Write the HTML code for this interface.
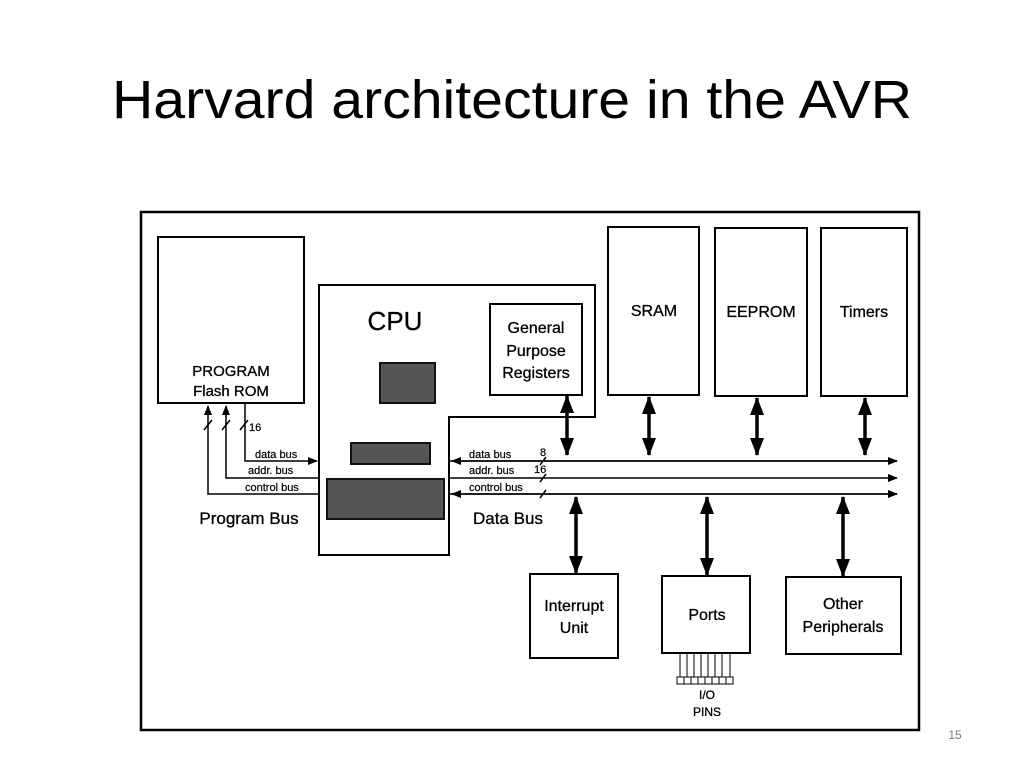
<!DOCTYPE html>
<html><head><meta charset="utf-8"><style>
html,body{margin:0;padding:0;background:#fff;}
svg{display:block}
</style></head><body>
<svg width="1024" height="768" viewBox="0 0 1024 768" xmlns="http://www.w3.org/2000/svg" font-family="Liberation Sans, Arial, sans-serif">
<defs>
<marker id="a" markerWidth="10" markerHeight="10" refX="9" refY="5" orient="auto" markerUnits="userSpaceOnUse"><path d="M0,1 L10,5 L0,9 Z" fill="#000"/></marker>
<marker id="t" viewBox="0 0 18 14" markerWidth="18" markerHeight="14" refX="17" refY="7" orient="auto-start-reverse" markerUnits="userSpaceOnUse"><path d="M0,0 L18,7 L0,14 Z" fill="#000"/></marker>
</defs>
<text x="512" y="118" font-size="54" text-anchor="middle" textLength="800" lengthAdjust="spacingAndGlyphs" fill="#000">Harvard architecture in the AVR</text>
<rect x="141" y="212" width="778" height="518" fill="none" stroke="#000" stroke-width="2.5"/>
<g fill="none" stroke="#000" stroke-width="2">
<rect x="158" y="237" width="146" height="166"/>
<path d="M319,285 H595 V417 H449 V555 H319 Z"/>
<rect x="490" y="304" width="92" height="91"/>
<rect x="608" y="227" width="91" height="168"/>
<rect x="715" y="228" width="92" height="168"/>
<rect x="821" y="228" width="86" height="168"/>
<rect x="530" y="574" width="88" height="84"/>
<rect x="662" y="576" width="88" height="77"/>
<rect x="786" y="577" width="115" height="77"/>
</g>
<rect x="380" y="363" width="55" height="40" fill="#555" stroke="#111" stroke-width="2"/>
<rect x="351" y="443" width="79" height="21" fill="#555" stroke="#111" stroke-width="2"/>
<rect x="327" y="479" width="117" height="40" fill="#555" stroke="#111" stroke-width="2"/>
<g stroke="#000" stroke-width="1.5" fill="none">
<path d="M245,403 V461 H317" marker-end="url(#a)"/>
<path d="M319,478 H226 V406" marker-end="url(#a)"/>
<path d="M319,494 H208 V406" marker-end="url(#a)"/>
<path d="M450,461 H897" marker-end="url(#a)"/>
<path d="M450,478 H897" marker-end="url(#a)"/>
<path d="M450,494 H897" marker-end="url(#a)"/>
<path d="M897,461 H452" marker-end="url(#a)"/>
<path d="M897,494 H452" marker-end="url(#a)"/>
<path d="M204,430 l8,-10 M222,430 l8,-10 M240,430 l8,-10 M540,465 l6,-8 M540,482 l6,-8 M540,498 l6,-8"/>
</g>
<g stroke="#000" stroke-width="3.5" marker-start="url(#t)" marker-end="url(#t)">
<line x1="567" y1="396" x2="567" y2="455"/>
<line x1="649" y1="397" x2="649" y2="455"/>
<line x1="757" y1="398" x2="757" y2="455"/>
<line x1="865" y1="398" x2="865" y2="455"/>
<line x1="576" y1="497" x2="576" y2="573"/>
<line x1="707" y1="497" x2="707" y2="575"/>
<line x1="843" y1="497" x2="843" y2="576"/>
</g>
<g stroke="#000" stroke-width="1">
<path d="M680,653 V677 M687,653 V677 M694,653 V677 M701,653 V677 M708,653 V677 M715,653 V677 M722,653 V677 M730,653 V677"/>
<rect x="677" y="677" width="56" height="7" fill="#fff"/>
<path d="M684,677 V684 M691,677 V684 M698,677 V684 M705,677 V684 M712,677 V684 M719,677 V684 M726,677 V684"/>
</g>
<g fill="#000" text-anchor="middle" stroke="#000" stroke-width="0.3">
<text x="231" y="376" font-size="15">PROGRAM</text>
<text x="231" y="396" font-size="15">Flash ROM</text>
<text x="395" y="330" font-size="26">CPU</text>
<text x="536" y="333" font-size="16">General</text>
<text x="536" y="356" font-size="16">Purpose</text>
<text x="536" y="378" font-size="16">Registers</text>
<text x="654" y="316" font-size="16">SRAM</text>
<text x="761" y="317" font-size="16">EEPROM</text>
<text x="864" y="317" font-size="16">Timers</text>
<text x="574" y="611" font-size="16">Interrupt</text>
<text x="574" y="633" font-size="16">Unit</text>
<text x="707" y="620" font-size="16">Ports</text>
<text x="843" y="609" font-size="16">Other</text>
<text x="843" y="632" font-size="16">Peripherals</text>
<text x="707" y="699" font-size="12">I/O</text>
<text x="707" y="716" font-size="12">PINS</text>
<text x="249" y="524" font-size="17">Program Bus</text>
<text x="508" y="524" font-size="17">Data Bus</text>
</g>
<g fill="#000" font-size="11" stroke="#000" stroke-width="0.2">
<text x="249" y="431">16</text>
<text x="255" y="458">data bus</text>
<text x="248" y="474">addr. bus</text>
<text x="245" y="491">control bus</text>
<text x="469" y="458">data bus</text>
<text x="469" y="474">addr. bus</text>
<text x="469" y="491">control bus</text>
<text x="540" y="456">8</text>
<text x="534" y="473">16</text>
</g>
<text x="955" y="739" font-size="12" fill="#777" text-anchor="middle">15</text>
</svg>
</body></html>
